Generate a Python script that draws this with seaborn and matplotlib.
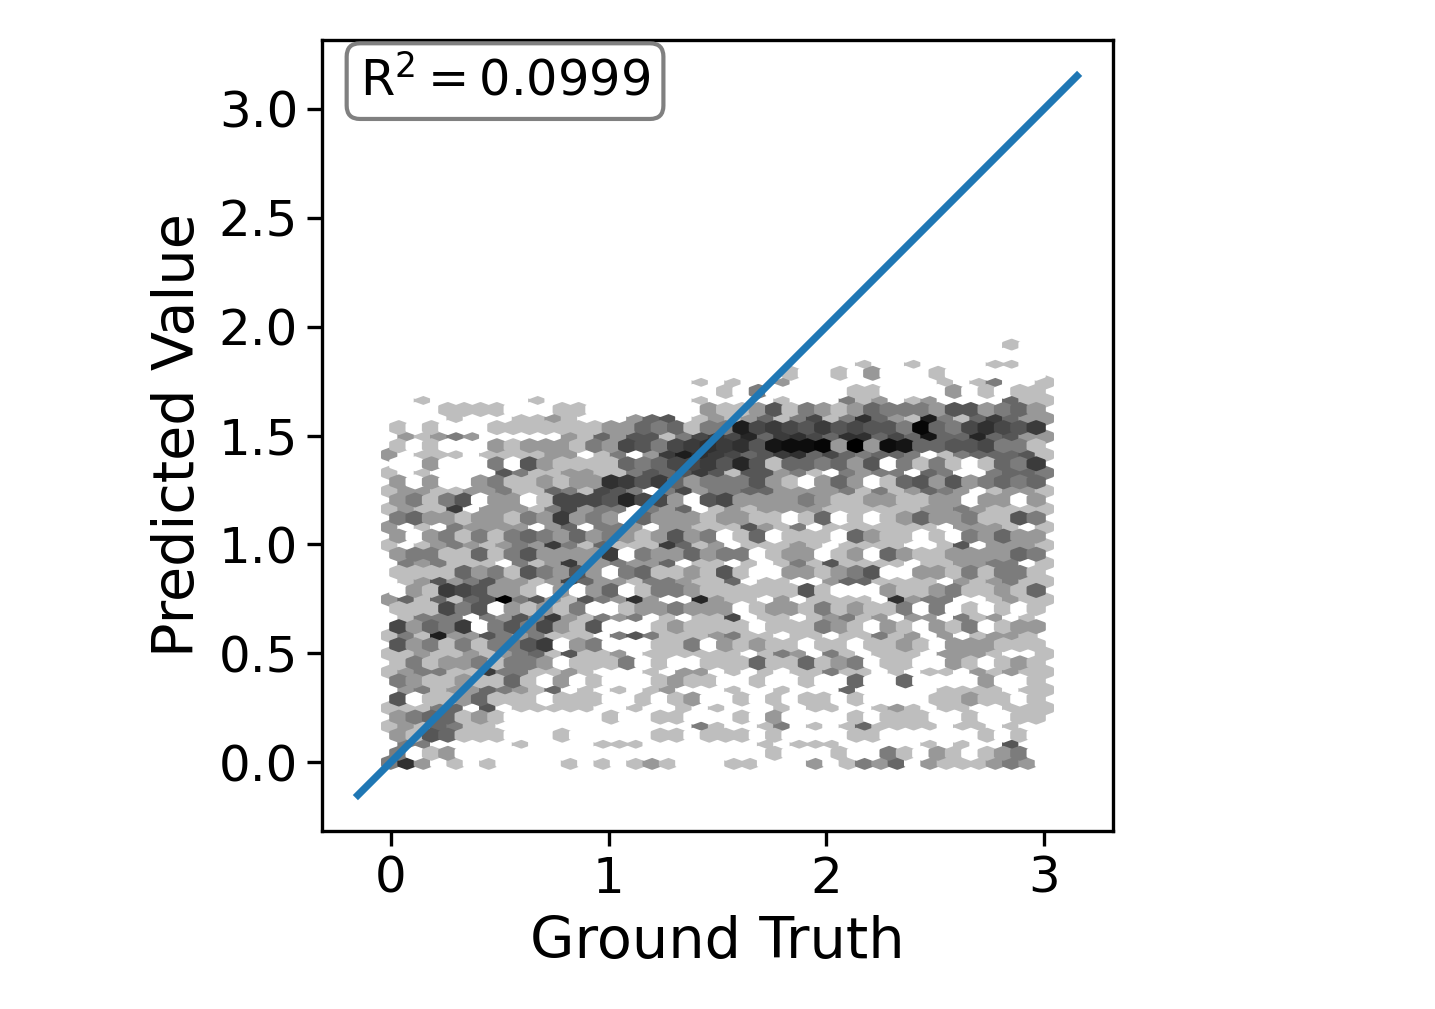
import numpy as np
import seaborn as sns
import matplotlib
matplotlib.use('Agg')
import matplotlib.pyplot as plt

# counts per hexagon, hex digits, top row first
# lattice one, 41 cells per row
even_rows = [
    "00000000000000000000000000000000000000100",  # 46
    "00000000000000000000000000000100100001100",  # 44
    "00000000000000000001010020000000001013001",  # 42
    "00100000010000000001000010003120120000411",  # 40
    "000010001121000245012124136138421a3147422",  # 38
    "021232000002142551367694786488464b4494522",  # 36
    "201110111122013027a876457846434430134 4451".replace(" ", ""),  # 34
    "10100005311221135457515523103233043003443",  # 32
    "12211223114316530362334422223131243201221",  # 30
    "12117022213623303240121222211111122321111",  # 28
    "20103222202403320221115213011111110222101",  # 26
    "10123212327314111741201112101111001502221",  # 24
    "03231110312722322401101013151111011223301",  # 22
    "01252352212642213321140110024411110212311",  # 20
    "2414145e352153282009211020111108233001211",  # 18
    "01333032537213230101160110123120220312010",  # 16
    "131a22532311103531112311011 0113120201221".replace(" ", ""),  # 14
    "11211212341511201111110132031011102221001",  # 12
    "12331173311210001022010101131101011021211",  # 10
    "02312243214010101200010010004000001111011",  # 8
    "11134050111110010010100010110012101100111",  # 6
    "12143110000000000003100130101411110110100",  # 4
    "03300000100001110000000101110000010100500",  # 2
    "38201010000101012100011000201324021112320",  # 0
]
# lattice two, 40 cells per row
odd_rows = [
    "0000000000000000000000000000000000000000",  # 45
    "0000000000000000000000001001020001000000",  # 43
    "0000000000000000000010300000110000201011",  # 41
    "0001111000110000000211251321243332552342",  # 39
    "101000111111122434133a6765756553d4368657",  # 37
    "10100021222132653678785bccd2e2cb44556331",  # 35
    "0020003052111143466759514434250313101437",  # 33
    "2020023112122875742333521024201452523434",  # 31
    "2313502201666596620562222321122112202202",  # 29
    "3422122132723204222122110140101242231153",  # 27
    "2023131343242321252301401110421101032422",  # 25
    "2331141352222703224233012201204211222243",  # 23
    "1111423153252034112151002212350022131331",  # 21
    "0217652210202401332111111510002112311214",  # 19
    "1116350212130012232220122131211303010101",  # 17
    "6243703536215000121111011132102102130122",  # 15
    "5231313357023000113021211011011210222111",  # 13
    "1312231332011130100111411412301100210121",  # 11
    "3211211410201000121100100100400400002001",  # 9
    "5011241110111001012001010110100001121101",  # 7
    "2344121000000100110001020000101110010011",  # 5
    "2154111000100000110111010000110000001010",  # 3
    "3012000000000000000000010001003102101230",  # 1
]

truth_min, truth_max = 0.0, 3.0
pred_min, pred_max = 0.0, 1.91
grid = 40
max_count = 14

ticks_x = [0, 1, 2, 3]
ticks_y = [0.0, 0.5, 1.0, 1.5, 2.0, 2.5, 3.0]
line_ends = [-0.15, 3.15]
r2_label = r'$\mathrm{R}^2 = 0.0999$'

# one point per hexagon, the bin centre, weighted by its count
step_x = (truth_max - truth_min) / grid
step_y = (pred_max - pred_min) / int(grid / np.sqrt(3)) / 2
xs, ys, cs = [], [], []
for n, row in enumerate(even_rows):
    k = 46 - 2 * n
    for i, c in enumerate(row):
        xs.append(truth_min + i * step_x)
        ys.append(pred_min + k * step_y)
        cs.append(int(c, 16))
for n, row in enumerate(odd_rows):
    k = 45 - 2 * n
    for i, c in enumerate(row):
        xs.append(truth_min + (i + 0.5) * step_x)
        ys.append(pred_min + k * step_y)
        cs.append(int(c, 16))
xs, ys, cs = np.array(xs), np.array(ys), np.array(cs)

fig = plt.figure(figsize=(1435 / 300, 1009 / 300), dpi=300)
ax = fig.add_axes([322 / 1435, 178 / 1009, 791 / 1435, 791 / 1009])

ax.hexbin(xs, ys, C=np.log10(cs + 1), reduce_C_function=np.sum, gridsize=grid,
          extent=(truth_min, truth_max, pred_min, pred_max), cmap='gray_r',
          vmin=0, vmax=np.log10(max_count + 1), linewidths=0.7)
sns.lineplot(x=line_ends, y=line_ends, ax=ax, color='#1f77b4', linewidth=1.75)

ax.set_xlim(-0.315, 3.315)
ax.set_ylim(-0.315, 3.315)
ax.set_xticks(ticks_x)
ax.set_yticks(ticks_y)
ax.tick_params(labelsize=12, pad=2.2)
ax.set_xlabel('Ground Truth', fontsize=13.75, labelpad=3)
ax.set_ylabel('Predicted Value', fontsize=13.75, labelpad=3)
ax.text(0.2314, 0.948, r2_label, transform=ax.transAxes, fontsize=11.85, ha='center', va='center',
        bbox=dict(boxstyle='round,pad=0.27', facecolor='white', edgecolor='gray', linewidth=1))

fig.savefig('out.png', dpi=300)
